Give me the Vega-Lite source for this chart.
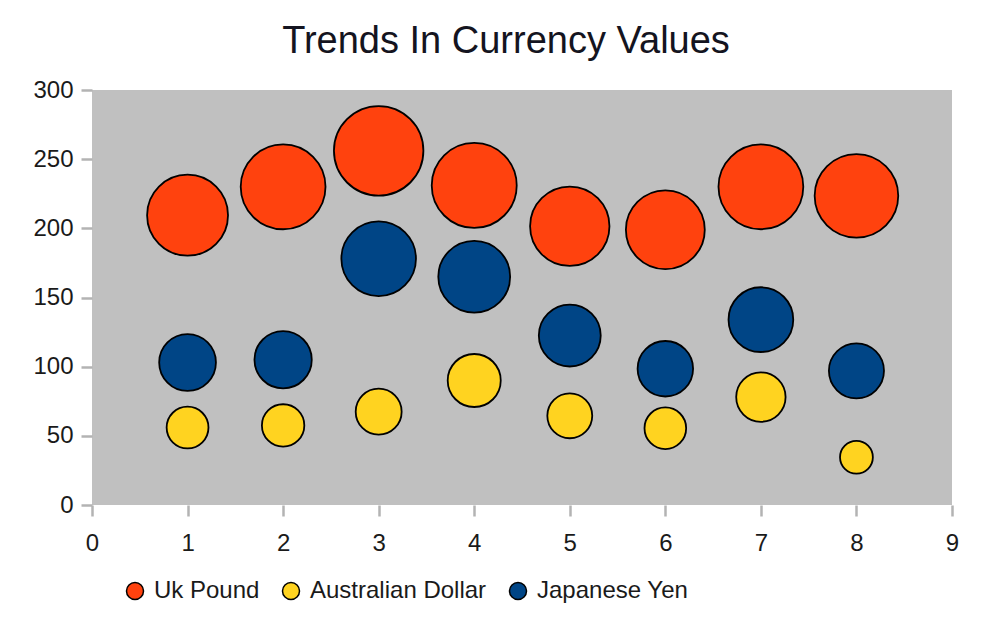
{
  "$schema": "https://vega.github.io/schema/vega-lite/v6.json",
  "width": 860,
  "height": 415,
  "autosize": {"type": "none"},
  "padding": {"left": 92, "top": 90, "right": 33, "bottom": 116},
  "background": "white",
  "title": {
    "text": "Trends In Currency Values",
    "font": "Liberation Sans",
    "fontSize": 38,
    "fontWeight": "normal",
    "color": "#141420",
    "anchor": "middle",
    "frame": "group",
    "baseline": "alphabetic",
    "offset": 37,
    "dy": 50,
    "dx": -16
  },
  "config": {
    "view": {"fill": "#c0c0c0", "stroke": null},
    "axis": {
      "labelFont": "Liberation Sans",
      "labelFontSize": 24,
      "labelColor": "#1a1a1a",
      "domain": false,
      "grid": false,
      "tickColor": "#b3b3b3",
      "tickWidth": 2.5,
      "tickSize": 11,
      "title": null
    }
  },
  "data": {
    "values": [
      {"x": 1, "value": 209.5, "currency": "Uk Pound"},
      {"x": 2, "value": 230, "currency": "Uk Pound"},
      {"x": 3, "value": 256, "currency": "Uk Pound"},
      {"x": 4, "value": 231, "currency": "Uk Pound"},
      {"x": 5, "value": 201.5, "currency": "Uk Pound"},
      {"x": 6, "value": 199, "currency": "Uk Pound"},
      {"x": 7, "value": 230, "currency": "Uk Pound"},
      {"x": 8, "value": 223.5, "currency": "Uk Pound"},
      {"x": 1, "value": 56, "currency": "Australian Dollar"},
      {"x": 2, "value": 57.5, "currency": "Australian Dollar"},
      {"x": 3, "value": 67.5, "currency": "Australian Dollar"},
      {"x": 4, "value": 90, "currency": "Australian Dollar"},
      {"x": 5, "value": 64.5, "currency": "Australian Dollar"},
      {"x": 6, "value": 55.5, "currency": "Australian Dollar"},
      {"x": 7, "value": 78, "currency": "Australian Dollar"},
      {"x": 8, "value": 34.5, "currency": "Australian Dollar"},
      {"x": 1, "value": 103, "currency": "Japanese Yen"},
      {"x": 2, "value": 105, "currency": "Japanese Yen"},
      {"x": 3, "value": 178, "currency": "Japanese Yen"},
      {"x": 4, "value": 165, "currency": "Japanese Yen"},
      {"x": 5, "value": 122.5, "currency": "Japanese Yen"},
      {"x": 6, "value": 98.5, "currency": "Japanese Yen"},
      {"x": 7, "value": 134, "currency": "Japanese Yen"},
      {"x": 8, "value": 97, "currency": "Japanese Yen"}
    ]
  },
  "mark": {
    "type": "point",
    "shape": "circle",
    "filled": true,
    "opacity": 1,
    "stroke": "black",
    "strokeWidth": 1.8
  },
  "encoding": {
    "x": {
      "field": "x",
      "type": "quantitative",
      "scale": {"domain": [0, 9], "nice": false, "zero": true},
      "axis": {"values": [0, 1, 2, 3, 4, 5, 6, 7, 8, 9], "labelPadding": 15, "labelFlush": false}
    },
    "y": {
      "field": "value",
      "type": "quantitative",
      "scale": {"domain": [0, 300], "nice": false},
      "axis": {"values": [0, 50, 100, 150, 200, 250, 300], "labelPadding": 8, "labelFlush": false}
    },
    "size": {
      "field": "value",
      "type": "quantitative",
      "scale": {"domain": [0, 300], "range": [0, 9380], "zero": true},
      "legend": null
    },
    "color": {
      "field": "currency",
      "type": "nominal",
      "sort": ["Uk Pound", "Australian Dollar", "Japanese Yen"],
      "scale": {
        "domain": ["Uk Pound", "Australian Dollar", "Japanese Yen"],
        "range": ["#ff420e", "#ffd320", "#004586"]
      },
      "legend": {
        "title": null,
        "orient": "none",
        "direction": "horizontal",
        "legendX": 31,
        "legendY": 489,
        "padding": 0,
        "symbolType": "circle",
        "symbolSize": 290,
        "symbolStrokeColor": "black",
        "symbolStrokeWidth": 1.5,
        "labelFont": "Liberation Sans",
        "labelFontSize": 24,
        "labelColor": "#1a1a1a",
        "labelOffset": 7,
        "columnPadding": 19,
        "labelLimit": 400
      }
    },
    "order": {"field": "x", "type": "quantitative"}
  }
}
